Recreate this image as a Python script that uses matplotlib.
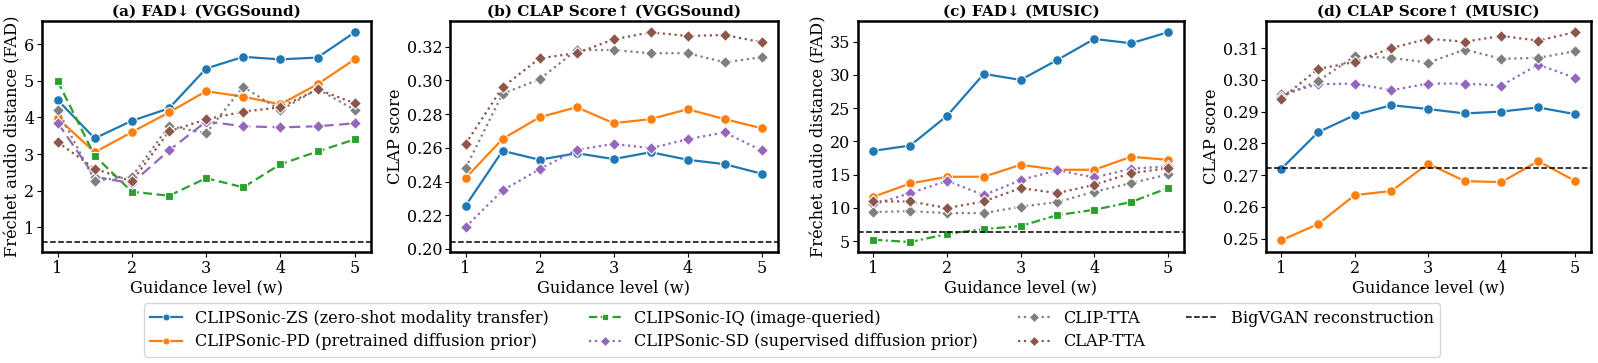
import matplotlib
matplotlib.use("Agg")
import matplotlib.pyplot as plt
from matplotlib.lines import Line2D

plt.rcParams['font.family'] = ['DejaVu Serif']

# guidance levels
w = [1, 1.5, 2, 2.5, 3, 3.5, 4, 4.5, 5]

# (a) FAD on VGGSound
fad_vgg_zs = [4.48, 3.43, 3.91, 4.25, 5.34, 5.66, 5.59, 5.64, 6.33]
fad_vgg_pd = [3.98, 3.05, 3.60, 4.14, 4.72, 4.57, 4.36, 4.91, 5.59]
fad_vgg_iq = [5.00, 2.95, 1.97, 1.86, 2.34, 2.09, 2.72, 3.07, 3.40]
fad_vgg_sd = [3.86, 2.38, 2.20, 3.10, 3.89, 3.76, 3.73, 3.76, 3.84]
fad_vgg_clip = [4.21, 2.27, 2.38, 3.77, 3.57, 4.84, 4.20, 4.78, 4.21]
fad_vgg_clap = [3.33, 2.60, 2.25, 3.62, 3.95, 4.16, 4.28, 4.77, 4.39]
fad_vgg_bigvgan = 0.59

# (b) CLAP score on VGGSound
clap_vgg_zs = [0.2256, 0.2582, 0.2529, 0.2568, 0.2533, 0.2574, 0.2529, 0.2503, 0.2446]
clap_vgg_pd = [0.2420, 0.2653, 0.2781, 0.2841, 0.2746, 0.2770, 0.2829, 0.2770, 0.2716]
clap_vgg_sd = [0.2130, 0.2347, 0.2473, 0.2588, 0.2623, 0.2598, 0.2651, 0.2691, 0.2584]
clap_vgg_clip = [0.2479, 0.2920, 0.3007, 0.3180, 0.3180, 0.3161, 0.3161, 0.3107, 0.3137]
clap_vgg_clap = [0.2623, 0.2959, 0.3131, 0.3161, 0.3243, 0.3285, 0.3263, 0.3269, 0.3226]
clap_vgg_bigvgan = 0.2041

# (c) FAD on MUSIC
fad_music_zs = [18.57, 19.37, 23.83, 30.14, 29.24, 32.25, 35.40, 34.75, 36.40]
fad_music_pd = [11.66, 13.66, 14.67, 14.67, 16.47, 15.72, 15.72, 17.67, 17.22]
fad_music_iq = [5.20, 4.85, 6.05, 6.80, 7.25, 8.90, 9.70, 10.86, 12.96]
fad_music_sd = [10.51, 12.21, 14.06, 11.91, 14.16, 15.67, 14.56, 15.87, 16.22]
fad_music_clip = [9.35, 9.50, 9.20, 9.20, 10.16, 10.86, 12.41, 13.71, 15.01]
fad_music_clap = [10.96, 10.96, 9.96, 10.96, 12.96, 12.21, 13.46, 15.20, 15.97]
fad_music_bigvgan = 6.35

# (d) CLAP score on MUSIC
clap_music_zs = [0.2720, 0.2835, 0.2889, 0.2920, 0.2908, 0.2894, 0.2900, 0.2913, 0.2892]
clap_music_pd = [0.2495, 0.2546, 0.2637, 0.2650, 0.2736, 0.2681, 0.2678, 0.2744, 0.2682]
clap_music_sd = [0.2954, 0.2986, 0.2988, 0.2967, 0.2988, 0.2988, 0.2982, 0.3048, 0.3006]
clap_music_clip = [0.2947, 0.2996, 0.3074, 0.3069, 0.3054, 0.3095, 0.3066, 0.3069, 0.3090]
clap_music_clap = [0.2941, 0.3034, 0.3056, 0.3100, 0.3129, 0.3120, 0.3138, 0.3123, 0.3150]
clap_music_bigvgan = 0.2722

names = {
    'zs': 'CLIPSonic-ZS (zero-shot modality transfer)',
    'pd': 'CLIPSonic-PD (pretrained diffusion prior)',
    'iq': 'CLIPSonic-IQ (image-queried)',
    'sd': 'CLIPSonic-SD (supervised diffusion prior)',
    'clip': 'CLIP-TTA',
    'clap': 'CLAP-TTA',
}
colors = {'zs': '#1f77b4', 'pd': '#ff7f0e', 'iq': '#2ca02c',
          'sd': '#9467bd', 'clip': '#7f7f7f', 'clap': '#8c564b'}
markers = {'zs': 'o', 'pd': 'o', 'iq': 's', 'sd': 'D', 'clip': 'D', 'clap': 'D'}
msizes = {'zs': 7, 'pd': 7, 'iq': 6, 'sd': 6, 'clip': 6, 'clap': 6}

panels = [
    ('(a) FAD↓ (VGGSound)', 'Fréchet audio distance (FAD)',
     {'zs': fad_vgg_zs, 'pd': fad_vgg_pd, 'iq': fad_vgg_iq, 'sd': fad_vgg_sd,
      'clip': fad_vgg_clip, 'clap': fad_vgg_clap},
     {'iq': (0, (4, 2)), 'sd': (0, (5, 2.5))},
     fad_vgg_bigvgan, (0.32, 6.64), [1, 2, 3, 4, 5, 6]),
    ('(b) CLAP Score↑ (VGGSound)', 'CLAP score',
     {'zs': clap_vgg_zs, 'pd': clap_vgg_pd, 'sd': clap_vgg_sd,
      'clip': clap_vgg_clip, 'clap': clap_vgg_clap},
     {},
     clap_vgg_bigvgan, (0.1982, 0.3352), [0.20, 0.22, 0.24, 0.26, 0.28, 0.30, 0.32]),
    ('(c) FAD↓ (MUSIC)', 'Fréchet audio distance (FAD)',
     {'zs': fad_music_zs, 'pd': fad_music_pd, 'iq': fad_music_iq, 'sd': fad_music_sd,
      'clip': fad_music_clip, 'clap': fad_music_clap},
     {'iq': (0, (4, 1.5, 1, 1.5))},
     fad_music_bigvgan, (3.35, 38.1), [5, 10, 15, 20, 25, 30, 35]),
    ('(d) CLAP Score↑ (MUSIC)', 'CLAP score',
     {'zs': clap_music_zs, 'pd': clap_music_pd, 'sd': clap_music_sd,
      'clip': clap_music_clip, 'clap': clap_music_clap},
     {},
     clap_music_bigvgan, (0.2458, 0.3185), [0.25, 0.26, 0.27, 0.28, 0.29, 0.30, 0.31]),
]

default_ls = {'zs': '-', 'pd': '-', 'iq': '--', 'sd': ':', 'clip': ':', 'clap': ':'}

fig = plt.figure(figsize=(15.98, 3.63), dpi=100)
lefts = [42, 450, 858, 1266]
widths = [329, 328, 326, 325]

for i, (title, ylabel, series, ls_over, ref, ylim, yticks) in enumerate(panels):
    ax = fig.add_axes([lefts[i] / 1598, 1 - 252 / 363, widths[i] / 1598, 231 / 363])
    for key in ['zs', 'pd', 'iq', 'sd', 'clip', 'clap']:
        if key not in series:
            continue
        ls = ls_over.get(key, default_ls[key])
        ax.plot(w, series[key], color=colors[key], linestyle=ls, linewidth=1.6,
                marker=markers[key], markersize=msizes[key],
                markeredgecolor='white', markeredgewidth=0.8)
    ax.axhline(ref, color='black', linestyle='--', linewidth=1.1)
    ax.set_xlim(0.79, 5.22)
    ax.set_ylim(*ylim)
    ax.set_yticks(yticks)
    if isinstance(yticks[0], float):
        ax.set_yticklabels(['%.2f' % t for t in yticks])
    ax.set_xticks([1, 2, 3, 4, 5])
    ax.set_title(title, fontsize=11, fontweight='bold', pad=4)
    ax.set_xlabel('Guidance level (w)', fontsize=11.7, labelpad=2)
    ax.set_ylabel(ylabel, fontsize=11.7, labelpad=2)
    ax.tick_params(labelsize=11.5, length=3.5, width=0.8, pad=2)
    for sp in ax.spines.values():
        sp.set_linewidth(1.8)

handles = []
for key in ['zs', 'pd', 'iq', 'sd', 'clip', 'clap']:
    handles.append(Line2D([], [], color=colors[key], linestyle=default_ls[key], linewidth=1.6,
                          marker=markers[key], markersize=5, markeredgecolor='white',
                          markeredgewidth=0.6, label=names[key]))
handles.append(Line2D([], [], color='black', linestyle='--', linewidth=1.1,
                      label='BigVGAN reconstruction'))

fig.legend(handles=handles, loc='center', bbox_to_anchor=(0.4956, 0.091), ncol=4,
           fontsize=11.6, frameon=True, handlelength=2.0, columnspacing=2.5,
           borderpad=0.4, labelspacing=0.4)

fig.savefig('out.png', dpi=100)
